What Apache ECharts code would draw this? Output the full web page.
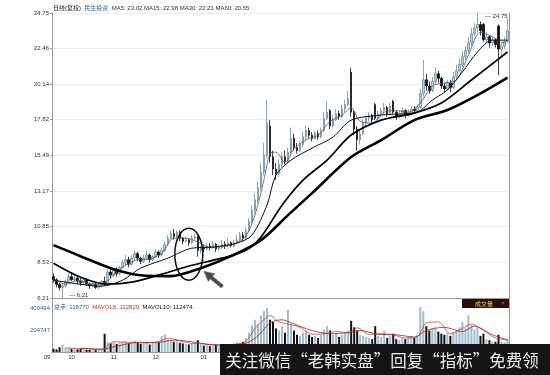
<!DOCTYPE html>
<html><head><meta charset="utf-8">
<script src="https://cdn.jsdelivr.net/npm/echarts@6/dist/echarts.min.js"></script>
<style>html,body{margin:0;padding:0;background:#fff}#c{width:550px;height:375px}</style>
</head><body><div id="c"></div>
<script>
// ---------- data ----------
const openP = [7.6,7.4,7.1,6.9,7.0,7.3,7.6,7.4,7.5,7.3,
 7.2,7.4,7.1,7.0,7.1,6.9,7.0,7.3,7.1,7.9,
 7.7,8.0,7.8,8.2,8.5,8.7,8.4,8.8,9.1,8.8,
 8.6,8.8,9.0,8.7,8.9,9.2,9.0,9.3,9.7,10.1,
 10.4,10.2,10.5,10.1,9.9,10.0,9.8,10.1,10.2,9.3,
 9.5,9.4,9.6,9.5,9.7,9.4,9.5,9.7,9.6,9.8,
 9.6,9.8,10.0,10.3,10.1,10.6,11.2,11.9,12.6,13.4,
 14.4,15.5,17.4,15.4,14.6,14.3,14.9,15.4,15.1,15.7,
 16.6,16.0,15.8,16.2,16.7,17.1,16.8,16.6,16.9,16.7,
 17.1,17.9,18.4,17.4,17.8,18.2,18.0,18.5,18.8,20.9,
 18.3,17.2,16.5,16.9,17.6,17.9,18.1,18.8,17.9,18.2,
 18.4,18.6,18.2,19.0,18.3,18.0,18.2,18.4,18.1,18.3,
 18.5,18.4,18.6,19.5,20.4,20.0,19.7,20.3,20.8,20.5,
 20.0,19.8,20.2,19.9,20.6,21.0,21.4,21.9,22.3,22.8,
 23.4,23.8,24.0,24.0,23.0,23.2,22.8,23.0,23.9,22.4,
 22.6,22.9];
const closeP = [7.4,7.1,6.9,7.0,7.3,7.6,7.4,7.5,7.3,7.2,
 7.4,7.1,7.0,7.1,6.9,7.0,7.3,7.1,7.9,7.7,
 8.0,7.8,8.2,8.5,8.7,8.4,8.8,9.1,8.8,8.6,
 8.8,9.0,8.7,8.9,9.2,9.0,9.3,9.7,10.1,10.4,
 10.2,10.5,10.1,9.9,10.0,9.8,10.1,10.2,9.3,9.5,
 9.4,9.6,9.5,9.7,9.4,9.5,9.7,9.6,9.8,9.6,
 9.8,10.0,10.3,10.1,10.6,11.2,11.9,12.6,13.4,14.4,
 15.5,17.6,15.4,14.6,14.3,14.9,15.4,15.1,15.7,16.6,
 16.0,15.8,16.2,16.7,17.1,16.8,16.6,16.9,16.7,17.1,
 17.9,18.3,17.4,17.8,18.2,18.0,18.5,18.8,19.2,18.3,
 17.2,16.5,16.9,17.6,17.9,18.1,17.8,17.9,18.2,18.4,
 18.6,18.2,18.7,18.3,18.0,18.2,18.4,18.1,18.3,18.5,
 18.4,18.6,19.5,20.4,20.0,19.7,20.3,20.8,20.5,20.0,
 19.8,20.2,19.9,20.6,21.0,21.4,21.9,22.3,22.8,23.4,
 23.8,24.0,23.6,23.0,23.2,22.8,23.0,22.7,22.4,22.6,
 22.9,23.6];
const highP = [7.8,7.5,7.2,7.1,7.4,7.8,7.9,7.7,7.6,7.5,
 7.5,7.5,7.2,7.3,7.2,7.1,7.4,7.6,8.1,8.2,
 8.1,8.2,8.3,8.7,9.0,8.9,9.0,9.3,9.2,8.9,
 9.0,9.3,9.1,9.0,9.4,9.3,9.5,9.9,10.3,10.6,
 10.7,10.6,10.6,10.2,10.2,10.1,10.3,10.4,10.3,9.6,
 9.7,9.8,9.8,9.9,9.8,9.7,10.0,9.9,10.1,9.9,
 10.0,10.3,10.5,10.5,10.8,11.4,12.2,13.0,13.8,15.0,
 16.3,19.1,17.8,15.8,15.0,15.2,15.7,15.8,16.0,17.3,
 16.9,16.3,16.4,17.0,17.4,17.3,17.0,17.1,17.1,17.3,
 18.3,19.0,18.5,18.1,18.5,18.4,18.8,19.1,19.7,21.2,
 18.4,17.4,17.1,17.8,18.1,18.3,18.2,18.9,18.4,18.6,
 18.9,18.7,18.9,19.1,18.4,18.4,18.6,18.5,18.5,18.7,
 18.7,18.8,19.8,21.7,20.8,20.3,20.6,21.2,21.0,20.6,
 20.2,20.4,20.4,20.9,21.4,21.8,22.3,22.6,23.2,23.8,
 24.1,24.75,24.2,24.1,23.5,23.3,23.2,23.1,24.0,22.8,
 23.2,24.4];
const lowP = [7.2,6.9,6.7,6.21,6.9,7.2,7.3,7.3,7.1,7.0,
 7.1,7.0,6.8,6.9,6.8,6.8,6.9,7.0,7.0,7.5,
 7.6,7.6,7.7,8.1,8.3,8.2,8.3,8.6,8.6,8.4,
 8.5,8.7,8.5,8.6,8.8,8.8,8.9,9.2,9.6,10.0,
 10.0,10.1,9.9,9.7,9.8,9.6,9.7,10.0,8.9,9.1,
 9.2,9.3,9.3,9.4,9.2,9.3,9.4,9.4,9.5,9.5,
 9.5,9.7,9.9,9.9,10.0,10.5,11.0,11.7,12.4,13.2,
 14.2,15.3,15.0,14.2,13.9,14.1,14.7,14.9,15.0,15.5,
 15.8,15.6,15.7,16.0,16.5,16.6,16.4,16.5,16.5,16.6,
 17.0,17.8,17.2,17.3,17.7,17.8,17.9,18.3,18.7,18.0,
 16.8,15.8,16.2,16.8,17.4,17.7,17.6,17.8,17.8,18.0,
 18.2,18.0,18.1,18.2,17.8,17.9,18.1,17.9,18.0,18.2,
 18.2,18.3,18.5,19.3,19.7,19.5,19.6,20.1,20.2,19.8,
 19.6,19.7,19.6,19.8,20.4,20.9,21.2,21.7,22.1,22.6,
 23.2,23.5,23.3,22.9,22.8,22.5,22.6,22.5,20.7,21.8,
 22.4,22.8];
const volume = [30000,25000,45000,65000,40000,35000,30000,38000,25000,28000,
 30000,22000,20000,24000,22000,20000,25000,170000,95000,80000,
 90000,75000,85000,95000,100000,80000,90000,105000,85000,75000,
 80000,95000,70000,85000,100000,90000,150000,165000,120000,110000,
 95000,100000,85000,80000,75000,70000,80000,85000,110000,70000,
 60000,65000,55000,60000,70000,55000,65000,60000,75000,70000,
 80000,90000,85000,95000,130000,180000,250000,300000,260000,340000,
 380000,410000,300000,280000,220000,200000,240000,180000,390000,260000,
 200000,160000,150000,180000,200000,160000,140000,150000,130000,160000,
 210000,240000,200000,160000,170000,140000,160000,180000,200000,290000,
 230000,200000,160000,150000,140000,130000,120000,240000,150000,140000,
 200000,130000,150000,170000,120000,110000,130000,120000,140000,150000,
 130000,160000,420000,380000,240000,200000,220000,230000,190000,170000,
 160000,180000,150000,190000,200000,230000,280000,220000,340000,250000,
 210000,230000,150000,170000,120000,110000,100000,95000,160000,95000,
 90000,118770];
// moving-average lines, read as [day index, value]
const ma5 = [[0,7.5],[4,7.1],[8,7.35],[12,7.15],[16,7.1],[20,7.7],[24,8.35],[28,8.7],[32,8.75],[36,9.1],[40,10.1],[44,10.1],[48,9.85],[52,9.5],[56,9.55],[60,9.7],[64,10.25],[67,11.6],[70,13.9],[72,15.6],[74,15.7],[77,15.0],[80,15.9],[84,16.5],[88,16.8],[92,17.7],[96,18.1],[99,18.6],[102,17.7],[106,17.6],[110,18.3],[114,18.4],[118,18.3],[122,18.9],[126,20.0],[130,20.2],[134,20.4],[138,22.0],[142,23.5],[146,23.2],[150,22.8],[151,23.02]];
const ma15 = [[0,7.37],[16,6.98],[23,7.37],[29,8.15],[38,8.80],[46,9.45],[53,9.52],[61,9.78],[66,10.30],[71,12.25],[74,14.20],[79,15.18],[86,15.96],[93,16.68],[99,17.78],[109,18.11],[121,18.31],[126,19.09],[131,19.74],[136,20.91],[141,22.21],[146,22.99],[151,22.98]];
const ma30 = [[0,8.47],[9,7.56],[18,7.11],[26,7.24],[36,7.76],[46,8.34],[56,8.80],[64,9.32],[69,10.17],[76,12.25],[83,13.88],[91,15.18],[99,16.81],[109,17.78],[120,18.24],[129,18.89],[139,20.39],[151,22.21]];
const ma60 = [[0,9.65],[9,8.93],[19,8.15],[29,7.69],[39,7.63],[49,8.15],[59,8.93],[69,9.97],[78,11.60],[86,13.03],[99,15.38],[109,16.48],[120,17.78],[131,18.44],[141,19.41],[151,20.55]];
const mavol5 = [[4,39000],[10,31000],[16,22000],[20,95000],[25,90000],[30,85000],[35,95000],[38,130000],[42,105000],[46,80000],[50,75000],[55,62000],[60,70000],[64,100000],[67,220000],[70,300000],[72,340000],[75,280000],[78,260000],[82,230000],[86,165000],[90,170000],[94,190000],[98,180000],[101,225000],[105,165000],[109,170000],[113,160000],[117,130000],[121,140000],[124,270000],[128,280000],[132,170000],[136,220000],[139,260000],[143,200000],[147,130000],[151,112829]];
const mavol10 = [[9,35000],[16,28000],[22,60000],[28,90000],[34,88000],[40,110000],[46,95000],[52,70000],[58,65000],[64,82000],[68,150000],[72,270000],[76,300000],[80,260000],[86,200000],[92,170000],[98,180000],[102,200000],[108,165000],[114,160000],[120,140000],[124,200000],[130,230000],[136,190000],[140,240000],[146,160000],[151,112474]];
const priceTicks = [6.21, 8.53, 10.85, 13.17, 15.49, 17.82, 20.14, 22.46, 24.75];
const volTicks = [204747, 409494];
const monthLabels = ['09','10','11','12','01'];
const monthStart = [0, 6, 20, 34, 50];
const stockName = '民生投资';

// ---------- chart ----------
const FONT = '"Liberation Sans", "Noto Sans CJK SC", sans-serif';
const cats = openP.map((_, i) => String(i));
const last = a => a[a.length - 1][1];
const chart = echarts.init(document.getElementById('c'), null, {renderer: 'canvas'});
const GL = 52, GR = 41;
const option = {
  animation: false,
  backgroundColor: '#fff',
  textStyle: {fontFamily: FONT},
  grid: [
    {left: GL, right: GR, top: 13, height: 285},
    {left: GL, right: GR, top: 299, height: 53}
  ],
  xAxis: [
    {type: 'category', gridIndex: 0, data: cats, boundaryGap: true,
     axisLine: {show: true, lineStyle: {color: '#999', width: 1}}, axisTick: {show: false},
     axisLabel: {show: false}, splitLine: {show: false}},
    {type: 'category', gridIndex: 1, data: cats, boundaryGap: true,
     axisLine: {show: true, lineStyle: {color: '#999', width: 1}}, axisTick: {show: false},
     splitLine: {show: false},
     axisLabel: {
       interval: (idx) => monthStart.indexOf(idx) >= 0,
       formatter: (v, idx) => {
         const k = monthStart.indexOf(idx);
         if (k < 0) return '';
         return k === 0 ? '{l|' + monthLabels[k] + '}' : monthLabels[k];
       },
       rich: {l: {padding: [0, 13, 0, 0], fontSize: 6, color: '#333', fontFamily: FONT}},
       fontSize: 6, color: '#333', margin: 2, fontFamily: FONT
     }}
  ],
  yAxis: [
    {type: 'value', gridIndex: 0, min: 6.21, max: 24.75, position: 'left',
     axisLine: {show: true, lineStyle: {color: '#999'}},
     axisTick: {show: true, length: 2, customValues: priceTicks, lineStyle: {color: '#999'}},
     axisLabel: {customValues: priceTicks, formatter: v => v.toFixed(2), fontSize: 6, color: '#333', margin: 3, fontFamily: FONT},
     splitLine: {show: true, lineStyle: {color: '#ececec', width: 1}}},
    {type: 'value', gridIndex: 0, min: 6.21, max: 24.75, position: 'right',
     axisLine: {show: true, lineStyle: {color: '#999'}}, axisTick: {show: false},
     axisLabel: {show: false}, splitLine: {show: false}},
    {type: 'value', gridIndex: 1, min: 0, max: 493254, position: 'left',
     axisLine: {show: true, lineStyle: {color: '#999'}},
     axisTick: {show: false, customValues: volTicks},
     axisLabel: {customValues: volTicks, formatter: v => String(Math.round(v)), fontSize: 6, color: '#3d5f92', margin: 2, fontFamily: FONT},
     splitLine: {show: false}},
    {type: 'value', gridIndex: 1, min: 0, max: 493254, position: 'right',
     axisLine: {show: true, lineStyle: {color: '#999'}}, axisTick: {show: false},
     axisLabel: {show: false}, splitLine: {show: false}}
  ],
  series: [
    {type: 'candlestick', name: 'K', xAxisIndex: 0, yAxisIndex: 0, z: 3,
     data: openP.map((o, i) => [o, closeP[i], lowP[i], highP[i]]),
     barWidth: 2,
     itemStyle: {color: '#b9d0dc', color0: '#111', borderColor: '#6d8fa4', borderColor0: '#111', borderWidth: 0.8},
     markPoint: {
       symbol: 'circle', symbolSize: 1, itemStyle: {color: 'rgba(0,0,0,0)'},
       label: {show: true, position: 'right', fontSize: 6, color: '#333', fontFamily: FONT,
               formatter: p => '— ' + Number(p.value).toFixed(2)},
       data: [
         {type: 'max', valueDim: 'highest', label: {offset: [2, 3]}},
         {type: 'min', valueDim: 'lowest', label: {offset: [1, -3]}}
       ]
     }},
    {type: 'line', name: 'MA5', xAxisIndex: 0, yAxisIndex: 0, data: ma5, smooth: 0.3, symbol: 'none', z: 4,
     lineStyle: {color: '#555', width: 0.8}},
    {type: 'line', name: 'MA15', xAxisIndex: 0, yAxisIndex: 0, data: ma15, smooth: 0.3, symbol: 'none', z: 4,
     lineStyle: {color: '#111', width: 1}},
    {type: 'line', name: 'MA30', xAxisIndex: 0, yAxisIndex: 0, data: ma30, smooth: 0.3, symbol: 'none', z: 4,
     lineStyle: {color: '#000', width: 1.7}},
    {type: 'line', name: 'MA60', xAxisIndex: 0, yAxisIndex: 0, data: ma60, smooth: 0.3, symbol: 'none', z: 4,
     lineStyle: {color: '#000', width: 2.6}},
    {type: 'bar', name: 'VOL', xAxisIndex: 1, yAxisIndex: 2, barWidth: 2,
     data: volume.map((v, i) => ({value: v, itemStyle: {color: closeP[i] >= openP[i] ? '#9fbccd' : '#111'}}))},
    {type: 'line', name: 'MAVOL5', xAxisIndex: 1, yAxisIndex: 2, data: mavol5, smooth: 0.3, symbol: 'none', z: 4,
     lineStyle: {color: '#d9413c', width: 0.8}},
    {type: 'line', name: 'MAVOL10', xAxisIndex: 1, yAxisIndex: 2, data: mavol10, smooth: 0.3, symbol: 'none', z: 4,
     lineStyle: {color: '#8c2a2a', width: 0.8}}
  ]
};
chart.setOption(option);

// annotations (ellipse around the crossing zone + arrow), anchored on data coordinates
const ctr = chart.convertToPixel({gridIndex: 0}, [45, 9.06]);
const cx = ctr[0], cy = ctr[1];
const tip = [cx + 15, cy + 17], tail = [cx + 33.5, cy + 32.5];
const ux = (tip[0] - tail[0]), uy = (tip[1] - tail[1]);
const L = Math.hypot(ux, uy), dx = ux / L, dy = uy / L, px = -dy, py = dx;
const hb = [tip[0] - 10 * dx, tip[1] - 10 * dy];
const arrowPts = [
  tip,
  [hb[0] + 5 * px, hb[1] + 5 * py],
  [hb[0] + 1.8 * px, hb[1] + 1.8 * py],
  [tail[0] + 1.8 * px, tail[1] + 1.8 * py],
  [tail[0] - 1.8 * px, tail[1] - 1.8 * py],
  [hb[0] - 1.8 * px, hb[1] - 1.8 * py],
  [hb[0] - 5 * px, hb[1] - 5 * py]
];

chart.setOption({
  graphic: [
    {type: 'text', left: 53, top: 2, z: 50, style: {
      text: '{a|日线(复权)} {b|' + stockName + '} {c|MA5: ' + last(ma5).toFixed(2) + ' MA15: ' + last(ma15).toFixed(2) +
            ' MA30: ' + last(ma30).toFixed(2) + ' MA60: ' + last(ma60).toFixed(2) + '}',
      rich: {a: {fontSize: 6, fill: '#222', fontFamily: FONT}, b: {fontSize: 6, fill: '#2d63b0', fontFamily: FONT},
             c: {fontSize: 6, fill: '#333', fontFamily: FONT}}}},
    {type: 'text', left: 54, top: 301, z: 50, style: {
      text: '{a|总手: ' + volume[volume.length - 1] + '} {b|MAVOL5: ' + last(mavol5) + '} {c|MAVOL10: ' + last(mavol10) + '}',
      rich: {a: {fontSize: 6, fill: '#3d5f92', fontFamily: FONT}, b: {fontSize: 6, fill: '#d0312d', fontFamily: FONT},
             c: {fontSize: 6, fill: '#222', fontFamily: FONT}}}},
    {type: 'rect', z: 50, shape: {x: 462, y: 299, width: 47, height: 9}, style: {fill: '#2a0c0c'}},
    {type: 'text', z: 51, x: 484, y: 303.5, style: {text: '成交量', fill: '#e6dc4a', font: '6px "Noto Sans CJK SC"',
      align: 'center', verticalAlign: 'middle', textAlign: 'center', textVerticalAlign: 'middle'}},
    {type: 'text', z: 51, x: 503, y: 303.5, style: {text: '▾', fill: '#d03030', font: '6px "DejaVu Sans"',
      align: 'center', verticalAlign: 'middle', textAlign: 'center', textVerticalAlign: 'middle'}},
    {type: 'ellipse', z: 60, shape: {cx: cx, cy: cy, rx: 14, ry: 26}, style: {fill: 'none', stroke: '#111', lineWidth: 1.5}},
    {type: 'polygon', z: 60, shape: {points: arrowPts}, style: {fill: '#4a4a4a', stroke: '#777', lineWidth: 0.6}},
    {type: 'rect', z: 100, shape: {x: 220, y: 344, width: 330, height: 31}, style: {fill: '#141414'}},
    {type: 'text', z: 101, x: 382, y: 361, style: {text: '关注微信“老韩实盘”回复“指标”免费领', fill: '#ececec',
      font: '16.5px "Noto Sans CJK SC"', align: 'center', verticalAlign: 'middle', textAlign: 'center', textVerticalAlign: 'middle'}}
  ]
});
</script></body></html>
